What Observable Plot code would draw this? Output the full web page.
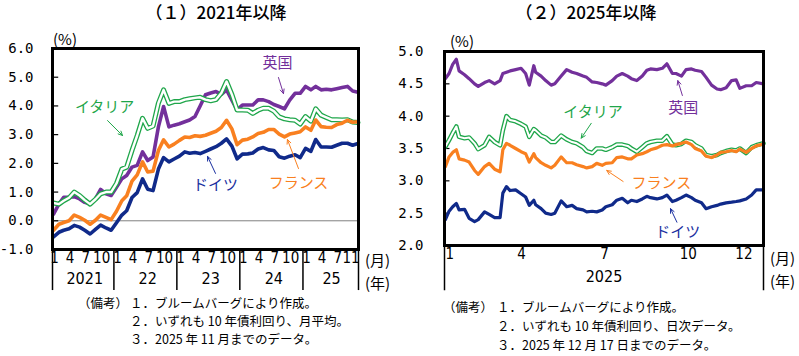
<!DOCTYPE html>
<html><head><meta charset="utf-8">
<script src="https://cdn.jsdelivr.net/npm/d3@7"></script>
<script src="https://cdn.jsdelivr.net/npm/@observablehq/plot@0.6"></script>
<style>
body{margin:0;background:#fff;}
#page{position:relative;width:799px;height:356px;overflow:hidden;font-family:"Noto Sans CJK JP",sans-serif;color:#000;}
.abs{position:absolute;white-space:nowrap;line-height:1;}
.title{font-size:17px;font-weight:500;transform:translateX(-50%);}
.unit{font-size:15px;}
.note{font-size:12.5px;}
#left{position:absolute;left:0;top:0;width:400px;height:300px;}
#right{position:absolute;left:400px;top:0;width:399px;height:300px;}
</style></head><body>
<div id="page">
  <div id="left"></div>
  <div id="right"></div>
  <div class="abs title" style="left:216px;top:3px">（１）2021年以降</div>
  <div class="abs title" style="left:586px;top:3px">（２）2025年以降</div>
  <div class="abs unit" style="left:53px;top:31px">(%)</div>
  <div class="abs unit" style="left:450px;top:33px">(%)</div>
  <div class="abs unit" style="left:365px;top:252px">(月)</div>
  <div class="abs unit" style="left:365px;top:275px">(年)</div>
  <div class="abs unit" style="left:770px;top:250px">(月)</div>
  <div class="abs unit" style="left:770px;top:273px">(年)</div>
  <div class="abs note" style="left:78px;top:297px">（備考）</div>
  <div class="abs note" style="left:130px;top:297px">１．ブルームバーグにより作成。</div>
  <div class="abs note" style="left:130px;top:315px">２．いずれも 10 年債利回り、月平均。</div>
  <div class="abs note" style="left:130px;top:333px">３．2025 年 11 月までのデータ。</div>
  <div class="abs note" style="left:443px;top:301px">（備考）</div>
  <div class="abs note" style="left:497px;top:301px">１．ブルームバーグにより作成。</div>
  <div class="abs note" style="left:497px;top:320px">２．いずれも 10 年債利回り、日次データ。</div>
  <div class="abs note" style="left:497px;top:339px">３．2025 年 12 月 17 日までのデータ。</div>
</div>
<script>
// ---------- Panel 1: monthly averages, Jan 2021 - Nov 2025 ----------
const ukMonthly = [
  0.23,0.58,0.82,0.82,0.84,0.76,0.64,0.58,0.76,1.09,0.94,0.88,
  1.17,1.46,1.58,1.87,1.93,2.40,2.10,2.22,3.27,3.98,3.27,3.33,
  3.38,3.45,3.51,3.63,4.00,4.39,4.45,4.50,4.40,4.56,4.20,3.86,
  4.03,4.03,4.03,4.21,4.21,4.15,4.05,3.98,3.90,4.20,4.44,4.44,
  4.68,4.56,4.68,4.56,4.58,4.56,4.60,4.64,4.68,4.52,4.48];
const itMonthly = [
  0.62,0.58,0.70,0.80,1.00,0.88,0.72,0.58,0.75,0.94,1.00,1.00,
  1.30,1.80,1.87,2.45,2.97,3.57,3.22,3.30,4.10,4.56,4.09,4.15,
  4.15,4.22,4.25,4.28,4.30,4.22,4.18,4.22,4.45,4.85,4.40,3.86,
  3.86,3.85,3.74,3.85,3.92,3.92,3.82,3.62,3.55,3.52,3.50,3.37,
  3.63,3.47,3.90,3.68,3.60,3.52,3.52,3.51,3.52,3.44,3.42];
const frMonthly = [
  -0.33,-0.12,-0.06,0.00,0.20,0.12,0.02,-0.12,0.02,0.20,0.12,0.04,
  0.33,0.70,0.87,1.38,1.60,2.05,1.70,1.73,2.45,2.82,2.57,2.67,
  2.80,2.92,2.90,2.96,2.94,2.98,3.05,3.12,3.25,3.50,3.20,2.65,
  2.81,2.84,2.92,3.04,3.08,3.18,3.18,3.02,2.92,3.02,3.06,3.10,
  3.27,3.15,3.51,3.28,3.26,3.25,3.35,3.40,3.50,3.43,3.45];
const deMonthly = [
  -0.56,-0.40,-0.33,-0.28,-0.16,-0.22,-0.33,-0.46,-0.30,-0.15,-0.25,-0.33,
  -0.07,0.20,0.35,0.81,0.98,1.46,1.10,1.05,1.80,2.20,2.05,2.15,
  2.25,2.40,2.35,2.38,2.34,2.42,2.50,2.58,2.70,2.85,2.60,2.16,
  2.32,2.33,2.36,2.50,2.55,2.47,2.45,2.23,2.18,2.25,2.30,2.20,
  2.52,2.42,2.83,2.57,2.57,2.56,2.63,2.70,2.70,2.63,2.69];
const monthsL = d3.utcMonths(new Date("2021-01-01"), new Date("2025-11-02"));
const yTicksL = [-1,0,1,2,3,4,5,6];
const monthTickDatesL = ["2021-01-01","2021-04-01","2021-07-01","2021-10-01",
  "2022-01-01","2022-04-01","2022-07-01","2022-10-01",
  "2023-01-01","2023-04-01","2023-07-01","2023-10-01",
  "2024-01-01","2024-04-01","2024-07-01","2024-10-01",
  "2025-01-01","2025-04-01","2025-07-01","2025-11-01"];
const monthTickLabelsL = ["1","4","7","10","1","4","7","10","1","4","7","10","1","4","7","10","1","4","7","11"];
const yearLabelsL = ["2021","22","23","24","25"];
const yearMidDatesL = ["2021-07-01","2022-07-01","2023-07-01","2024-07-01","2025-06-01"];
const xDomainL = ["2020-12-26","2025-11-04"];
const yearSepsL = ["2020-12-26","2021-12-17","2022-12-17","2023-12-17","2024-12-17","2025-11-04"];

// ---------- Panel 2: daily, 2025-01-01 - 2025-12-17 (sampled readings) ----------
const dailyDates = ["2025-01-02","2025-01-06","2025-01-10","2025-01-14","2025-01-17","2025-01-23","2025-01-28",
  "2025-02-03","2025-02-07","2025-02-14","2025-02-19","2025-02-25",
  "2025-03-03","2025-03-06","2025-03-10","2025-03-14","2025-03-20","2025-03-26","2025-03-31",
  "2025-04-04","2025-04-09","2025-04-11","2025-04-17","2025-04-22","2025-04-28",
  "2025-05-02","2025-05-09","2025-05-15","2025-05-21","2025-05-26",
  "2025-06-02","2025-06-06","2025-06-12","2025-06-17","2025-06-23","2025-06-27",
  "2025-07-04","2025-07-09","2025-07-15","2025-07-21","2025-07-25","2025-07-31",
  "2025-08-06","2025-08-11","2025-08-15","2025-08-22","2025-08-28",
  "2025-09-02","2025-09-08","2025-09-12","2025-09-18","2025-09-23","2025-09-29",
  "2025-10-03","2025-10-10","2025-10-15","2025-10-21","2025-10-27","2025-10-31",
  "2025-11-06","2025-11-12","2025-11-17","2025-11-21","2025-11-28",
  "2025-12-04","2025-12-09","2025-12-17"];
const ukDaily = [4.58,4.66,4.80,4.88,4.70,4.64,4.58, 4.50,4.46,4.52,4.55,4.50,
  4.55,4.66,4.68,4.70,4.72,4.74,4.66, 4.48,4.78,4.68,4.62,4.55,4.48,
  4.50,4.62,4.72,4.68,4.66, 4.62,4.60,4.53,4.52,4.50,4.48,
  4.55,4.62,4.66,4.62,4.58,4.55, 4.62,4.71,4.73,4.72,4.74,
  4.81,4.66,4.66,4.62,4.72,4.73, 4.71,4.69,4.60,4.48,4.42,4.41,
  4.44,4.55,4.56,4.43,4.47, 4.47,4.52,4.50];
const itDaily = [3.53,3.63,3.74,3.84,3.68,3.66,3.67, 3.58,3.49,3.55,3.68,3.60,
  3.55,3.78,4.00,3.94,3.92,3.88,3.84, 3.68,3.80,3.78,3.70,3.67,3.60,
  3.60,3.70,3.64,3.60,3.58, 3.52,3.46,3.43,3.50,3.50,3.48,
  3.52,3.56,3.56,3.54,3.50,3.45, 3.52,3.58,3.60,3.62,3.62,
  3.69,3.56,3.55,3.57,3.62,3.60, 3.55,3.50,3.40,3.38,3.40,3.43,
  3.46,3.48,3.47,3.50,3.43, 3.52,3.55,3.58];
const frDaily = [3.22,3.37,3.44,3.48,3.34,3.32,3.29, 3.16,3.10,3.22,3.27,3.18,
  3.14,3.48,3.58,3.55,3.50,3.45,3.42, 3.29,3.42,3.36,3.28,3.24,3.20,
  3.24,3.37,3.28,3.28,3.25, 3.22,3.20,3.22,3.27,3.24,3.27,
  3.28,3.36,3.37,3.34,3.34,3.40, 3.42,3.45,3.48,3.51,3.55,
  3.56,3.54,3.56,3.58,3.60,3.56, 3.50,3.46,3.38,3.36,3.40,3.44,
  3.45,3.47,3.45,3.49,3.44, 3.50,3.54,3.57];
const deDaily = [2.40,2.53,2.60,2.65,2.55,2.56,2.42, 2.37,2.40,2.52,2.48,2.43,
  2.43,2.81,2.91,2.85,2.86,2.80,2.75, 2.62,2.70,2.63,2.57,2.50,2.48,
  2.50,2.69,2.60,2.62,2.57, 2.55,2.52,2.53,2.52,2.55,2.60,
  2.63,2.70,2.73,2.66,2.70,2.68, 2.72,2.76,2.74,2.72,2.74,
  2.78,2.68,2.70,2.74,2.78,2.74, 2.70,2.66,2.57,2.60,2.62,2.64,
  2.66,2.67,2.68,2.69,2.72, 2.78,2.86,2.86];
const yTicksR = [2.0,2.5,3.0,3.5,4.0,4.5,5.0];
const monthTickDatesR = ["2025-01-01","2025-04-01","2025-07-01","2025-10-01","2025-12-01"];
const monthTickLabelsR = ["1","4","7","10","12"];
const yearLabelR = ["2025"];
const xDomainR = ["2025-01-01","2025-12-17"];

// ---------- annotations (data coordinates) ----------
const annL = [
  {name:"イタリア", color:"#1fa64a", tx:"2021-10-24", ty:3.95, a:["2021-11-10",3.49,"2022-02-05",2.97]},
  {name:"英国",     color:"#73309b", tx:"2024-07-23", ty:5.48, a:["2024-07-28",4.99,"2024-08-26",4.43]},
  {name:"ドイツ",   color:"#1a2fa0", tx:"2023-07-29", ty:1.23, a:["2023-07-29",1.65,"2023-06-13",2.24]},
  {name:"フランス", color:"#f98020", tx:"2024-11-21", ty:1.30, a:["2024-11-21",1.82,"2024-09-18",2.83]}
];
const annR = [
  {name:"イタリア", color:"#1fa64a", tx:"2025-06-13", ty:4.06, a:["2025-06-11",3.89,"2025-05-31",3.66]},
  {name:"英国",     color:"#73309b", tx:"2025-09-20", ty:4.13, a:["2025-09-19",4.32,"2025-09-14",4.55]},
  {name:"フランス", color:"#f98020", tx:"2025-08-27", ty:2.96, a:["2025-07-16",2.99,"2025-06-28",3.16]},
  {name:"ドイツ",   color:"#1a2fa0", tx:"2025-09-14", ty:2.20, a:["2025-09-13",2.36,"2025-09-06",2.57]}
];

const C = {uk:"#73309b", it:"#1fa64a", fr:"#f98020", de:"#102a8a"};
const JP = "'Noto Sans CJK JP', sans-serif";
const MONO = "'DejaVu Sans Mono', monospace";
const NARROW = "'Liberation Sans Narrow', 'DejaVu Sans Condensed', sans-serif";
const D = s => new Date(s);

function rows(dates, vals) { return dates.map((d, i) => ({date: d instanceof Date ? d : D(d), v: vals[i]})); }

function seriesMarks(dates, uk, it, fr, de, w) {
  return [
    Plot.line(rows(dates, uk), {x:"date", y:"v", stroke:C.uk, strokeWidth:w, strokeLinejoin:"round"}),
    Plot.line(rows(dates, it), {x:"date", y:"v", stroke:C.it, strokeWidth:w + 1.4, strokeLinejoin:"round"}),
    Plot.line(rows(dates, it), {x:"date", y:"v", stroke:"white", strokeWidth:w - 1.2, strokeLinejoin:"round"}),
    Plot.line(rows(dates, fr), {x:"date", y:"v", stroke:C.fr, strokeWidth:w, strokeLinejoin:"round"}),
    Plot.line(rows(dates, de), {x:"date", y:"v", stroke:C.de, strokeWidth:w, strokeLinejoin:"round"})
  ];
}
function annMarks(ann) {
  return ann.flatMap(o => [
    Plot.text([o], {x: d => D(d.tx), y: "ty", text: "name", fill: o.color, fontFamily: JP, fontSize: 15}),
    Plot.arrow([o], {x1: d => D(d.a[0]), y1: d => d.a[1], x2: d => D(d.a[2]), y2: d => d.a[3],
      stroke: o.color, strokeWidth: 1, headLength: 7, headAngle: 50})
  ]);
}
// short inner tick marks on the left frame edge
function innerTicks(ticks, domainStart, days) {
  const x1 = D(domainStart), x2 = d3.utcDay.offset(x1, days);
  return Plot.ruleY(ticks, {y: d => d, x1: () => x1, x2: () => x2, stroke: "black", strokeWidth: 1.2});
}

// ---------- Left plot ----------
const yearMidL = yearMidDatesL.map((d, i) => ({date: D(d), label: yearLabelsL[i]}));
const mtL = monthTickDatesL.map((d, i) => ({date: D(d), label: monthTickLabelsL[i]}));
const left = Plot.plot({
  width: 400, height: 300,
  marginTop: 48, marginBottom: 51, marginLeft: 52, marginRight: 42,
  style: {background: "transparent", overflow: "visible", color: "black"},
  x: {type: "utc", domain: xDomainL.map(D), axis: null},
  y: {domain: [-1, 6]},
  marks: [
    Plot.ruleY([0], {stroke: "#808080", strokeWidth: 1}),
    innerTicks(yTicksL, xDomainL[0], 36),
    Plot.axisY(yTicksL, {tickSize: 0, tickPadding: 19, tickFormat: d => d.toFixed(1), label: null, fontFamily: MONO, fontSize: 14}),
    ...seriesMarks(monthsL, ukMonthly, itMonthly, frMonthly, deMonthly, 3.6),
    Plot.ruleX(yearSepsL.map(D), {x: d => d, y1: -1, y2: -2.43, stroke: "black", strokeWidth: 1.5}),
    Plot.text(mtL.slice(0, -1), {x: "date", text: "label", frameAnchor: "bottom", dy: 13, dx: 1, fontFamily: NARROW, fontSize: 15}),
    Plot.text(mtL.slice(-1), {x: "date", text: "label", frameAnchor: "bottom", dy: 13, dx: -7, fontFamily: NARROW, fontSize: 15}),
    Plot.text(yearMidL, {x: "date", text: "label", frameAnchor: "bottom", dy: 34, fontFamily: NARROW, fontSize: 16}),
    ...annMarks(annL),
    Plot.frame({stroke: "black", strokeWidth: 3})
  ]
});
document.getElementById("left").append(left);

// ---------- Right plot ----------
const mtR = monthTickDatesR.map((d, i) => ({date: D(d), label: monthTickLabelsR[i]}));
const right = Plot.plot({
  width: 399, height: 300,
  marginTop: 51, marginBottom: 55, marginLeft: 44, marginRight: 36,
  style: {background: "transparent", overflow: "visible", color: "black"},
  x: {type: "utc", domain: xDomainR.map(D), axis: null},
  y: {domain: [2, 5]},
  marks: [
    innerTicks(yTicksR, xDomainR[0], 6),
    Plot.axisY(yTicksR, {tickSize: 0, tickPadding: 21, tickFormat: d => d.toFixed(1), label: null, fontFamily: MONO, fontSize: 14}),
    ...seriesMarks(dailyDates, ukDaily, itDaily, frDaily, deDaily, 3.2),
    Plot.ruleX(xDomainR.map(D), {x: d => d, y1: 2, y2: 1.30, stroke: "black", strokeWidth: 1.5}),
    Plot.text(mtR.slice(0, 1), {x: "date", text: "label", frameAnchor: "bottom", dy: 13, dx: 1, textAnchor: "start", fontFamily: NARROW, fontSize: 15}),
    Plot.text(mtR.slice(1), {x: "date", text: "label", frameAnchor: "bottom", dy: 13, dx: -5, fontFamily: NARROW, fontSize: 15}),
    Plot.text(yearLabelR, {text: d => d, frameAnchor: "bottom", dy: 36, fontFamily: NARROW, fontSize: 16}),
    ...annMarks(annR),
    Plot.frame({stroke: "black", strokeWidth: 3})
  ]
});
document.getElementById("right").append(right);
</script>
</body></html>
